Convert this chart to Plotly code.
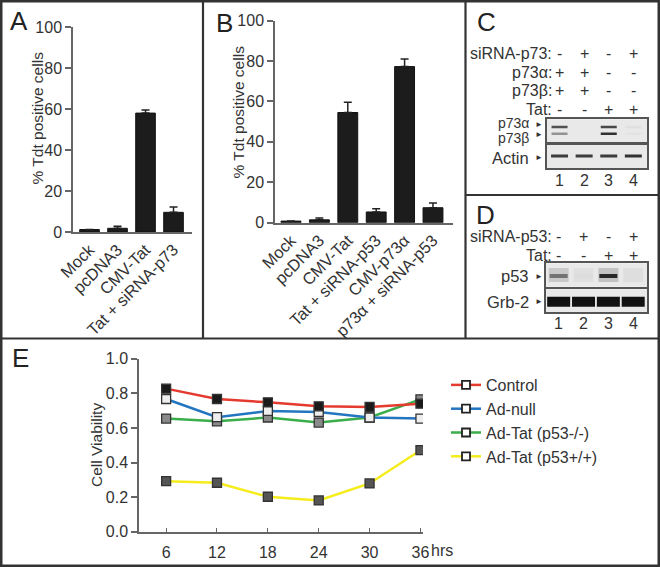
import plotly.graph_objects as go

W, H = 660, 567
FONT = "Liberation Sans, Arial, Helvetica, sans-serif"
INK = "#333333"
AXIS = "#666666"

# ---- panel A: % Tdt positive cells
a_groups = ["Mock", "pcDNA3", "CMV-Tat", "Tat + siRNA-p73"]
a_tdt = [1.2, 1.8, 58.0, 9.6]
a_err = [0.0, 1.0, 1.5, 2.6]

# ---- panel B
b_groups = ["Mock", "pcDNA3", "CMV-Tat", "Tat + siRNA-p53", "CMV-p73α", "p73α + siRNA-p53"]
b_tdt = [0.8, 1.4, 54.5, 5.3, 77.2, 7.4]
b_err = [0.0, 0.9, 5.1, 1.6, 3.7, 2.3]

# ---- panels C / D: western blots (lanes 1-4, band intensity 0..1)
lanes = [1, 2, 3, 4]
c_sirna = ["-", "+", "-", "+"]
c_p73a = ["+", "+", "-", "-"]
c_p73b = ["+", "+", "-", "-"]
c_tat = ["-", "-", "+", "+"]
p73a_band = [0.70, 0.0, 0.75, 0.04]
p73b_band = [0.40, 0.0, 0.85, 0.03]
actin_band = [0.80, 0.80, 0.80, 0.85]
d_sirna = ["-", "+", "-", "+"]
d_tat = ["-", "-", "+", "+"]
p53_band = [0.55, 0.06, 0.90, 0.05]
p53_smear = [0.15, 0.04, 0.18, 0.05]
grb2_band = [1.0, 1.0, 1.0, 1.0]

# ---- panel E: cell viability
hours = [6, 12, 18, 24, 30, 36]
control = [0.827, 0.767, 0.748, 0.725, 0.721, 0.740]
ad_null = [0.767, 0.662, 0.698, 0.692, 0.660, 0.654]
ad_tat_p53ko = [0.654, 0.638, 0.660, 0.631, 0.660, 0.765]
ad_tat_p53wt = [0.292, 0.283, 0.202, 0.181, 0.279, 0.471]


def px(v):
    return v / W


def py(v):
    return 1 - v / H


def txt(text, x, y, size=16, xanchor="center", xref="paper", angle=0, color=INK, **kw):
    return dict(text=text, x=x, y=y, xref=xref, yref="paper", showarrow=False,
                xanchor=xanchor, yanchor="middle", textangle=angle,
                font=dict(family=FONT, size=size, color=color), **kw)


fig = go.Figure()

# bars
for groups, vals, err, ax in [(a_groups, a_tdt, a_err, ("x", "y")),
                              (b_groups, b_tdt, b_err, ("x2", "y2"))]:
    fig.add_trace(go.Bar(
        x=groups, y=vals, width=0.7, xaxis=ax[0], yaxis=ax[1],
        marker=dict(color="#1c1c1c", line=dict(color="#111111", width=1)),
        error_y=dict(type="data", array=err, arrayminus=[0] * len(err),
                     color="#222222", thickness=1.5, width=4),
        showlegend=False, hoverinfo="skip",
    ))


def band(xa, ya, level, intens, thick, length):
    # plotly's line-ew symbol is 1.4 x marker size long
    cols = []
    for i in intens:
        g = round(233 - 215 * i)
        cols.append(f"rgb({g},{g},{g})")
    fig.add_trace(go.Scatter(
        x=lanes, y=[level] * len(lanes), mode="markers", xaxis=xa, yaxis=ya,
        marker=dict(symbol="line-ew", size=length / 1.4, color=cols,
                    line=dict(color=cols, width=thick)),
        showlegend=False, hoverinfo="skip",
    ))


band("x4", "y4", 0.66, p73a_band, 2.5, 16)
band("x4", "y4", 0.36, p73b_band, 2.5, 16)
band("x5", "y5", 0.53, actin_band, 3, 17)
band("x6", "y6", 0.5, p53_smear, 14, 20)
band("x6", "y6", 0.46, p53_band, 4, 18)
band("x7", "y7", 0.46, grb2_band, 10, 23)

# viability lines
series = [
    ("Ad-Tat (p53+/+)", ad_tat_p53wt, "#f4ec1c", "#555555"),
    ("Ad-Tat (p53-/-)", ad_tat_p53ko, "#3aae4a", "#8a8a8a"),
    ("Ad-null", ad_null, "#2475c0", "#eeeeee"),
    ("Control", control, "#e53a2e", "#1a1a1a"),
]
for name, vals, lc, mc in series:
    fig.add_trace(go.Scatter(
        x=hours, y=vals, mode="lines+markers", xaxis="x3", yaxis="y3",
        line=dict(color=lc, width=2.5),
        marker=dict(symbol="square", size=9, color=mc, line=dict(color="#333333", width=1.3)),
        showlegend=False, hoverinfo="skip",
    ))
for name, vals, lc, mc in series[::-1]:
    fig.add_trace(go.Scatter(
        x=[None], y=[None], mode="lines+markers", xaxis="x3", yaxis="y3", name=name,
        legendgroup=name,
        line=dict(color=lc, width=2.5),
        marker=dict(symbol="square", size=8, color="white", line=dict(color="#222222", width=1.8)),
    ))

bar_x = dict(showline=True, linecolor=AXIS, linewidth=1.5, ticks="", tickangle=-45,
             tickfont=dict(family=FONT, size=16.5, color=INK), showgrid=False,
             zeroline=False, automargin=False)
bar_y = dict(showline=True, linecolor=AXIS, linewidth=1.5, ticks="outside", ticklen=6,
             tickcolor=AXIS, tickwidth=1.5, range=[0, 100], dtick=20, automargin=False,
             tickfont=dict(family=FONT, size=16, color=INK), showgrid=False, zeroline=False)
blot = dict(showline=True, mirror=True, linecolor="#555555", linewidth=1.5, ticks="",
            showticklabels=False, showgrid=False, zeroline=False, automargin=False)


def blot_axes(n, x0, x1, y0, y1):
    return {
        f"xaxis{n}": dict(blot, domain=[px(x0), px(x1)], range=[0.49, 4.555], anchor=f"y{n}"),
        f"yaxis{n}": dict(blot, domain=[py(y1), py(y0)], range=[0, 1], anchor=f"x{n}"),
    }


axes = dict(
    xaxis=dict(bar_x, domain=[px(73), px(192)], range=[-0.59, 3.66], anchor="y"),
    yaxis=dict(bar_y, domain=[py(232), py(27)], anchor="x"),
    xaxis2=dict(bar_x, domain=[px(275), px(452.7)], range=[-0.563, 5.694], anchor="y2"),
    yaxis2=dict(bar_y, domain=[py(222.7), py(20.5)], anchor="x2"),
    xaxis3=dict(domain=[px(139), px(423)], range=[2.8, 36.3], anchor="y3", automargin=False,
                showline=True, linecolor=AXIS, linewidth=1.5, ticks="inside", ticklen=4,
                tickcolor=AXIS, tickvals=hours, ticktext=[str(h) for h in hours],
                ticklabelstandoff=5, tickfont=dict(family=FONT, size=16, color=INK),
                showgrid=False, zeroline=False),
    yaxis3=dict(domain=[py(531.7), py(358.7)], range=[0, 1], anchor="x3", dtick=0.2,
                tickformat=".1f", showline=True, linecolor=AXIS, linewidth=1.5, automargin=False,
                ticks="outside", ticklen=6, tickcolor=AXIS, tickwidth=1.5,
                tickfont=dict(family=FONT, size=16, color=INK), showgrid=False, zeroline=False),
)
axes.update(blot_axes(4, 547, 647, 119.3, 142))
axes.update(blot_axes(5, 547, 647, 145, 168.3))
axes.update(blot_axes(6, 546, 647, 263.3, 286.7))
axes.update(blot_axes(7, 546, 647, 289.3, 312.3))

shapes = []
for n in (4, 5, 6, 7):
    shapes.append(dict(type="rect", xref=f"x{n} domain", yref=f"y{n} domain",
                       x0=0, x1=1, y0=0, y1=1, fillcolor="#e9e9e9",
                       line=dict(width=0), layer="below"))
frame = dict(color="#333333", width=2.2)
shapes += [
    dict(type="rect", xref="paper", yref="paper", x0=0, x1=1, y0=0, y1=1,
         line=dict(color="#333333", width=5)),
    dict(type="line", xref="paper", yref="paper", x0=0, x1=1, y0=py(338.5), y1=py(338.5), line=frame),
    dict(type="line", xref="paper", yref="paper", x0=px(203), x1=px(203), y0=py(338.5), y1=1, line=frame),
    dict(type="line", xref="paper", yref="paper", x0=px(465.5), x1=px(465.5), y0=py(338.5), y1=1, line=frame),
    dict(type="line", xref="paper", yref="paper", x0=px(465.5), x1=1, y0=py(195), y1=py(195), line=frame),
]

ann = [
    txt("A", px(19), py(21), size=26, color="#222222"),
    txt("B", px(224), py(23), size=26, color="#222222"),
    txt("C", px(486), py(22), size=26, color="#222222"),
    txt("D", px(485), py(215), size=26, color="#222222"),
    txt("E", px(20), py(358), size=26, color="#222222"),
    txt("% Tdt positive cells", px(37), py(118.5), size=15.5, angle=-90),
    txt("% Tdt positive cells", px(237.5), py(112), size=15.5, angle=-90),
    txt("Cell Viability", px(96), py(445), size=15.5, angle=-90),
    dict(text="hrs", x=36, y=py(550), xref="x3", yref="paper", showarrow=False,
         xanchor="left", yanchor="middle", xshift=9,
         font=dict(family=FONT, size=16, color=INK)),
]

# condition tables
for rows, ypos, xref in [
    ([("siRNA-p73:", c_sirna), ("p73α:", c_p73a), ("p73β:", c_p73b), ("Tat:", c_tat)],
     [53.3, 72.7, 90.7, 109.3], "x4"),
    ([("siRNA-p53:", d_sirna), ("Tat:", d_tat)], [236.7, 255], "x6"),
]:
    for (label, signs), yv in zip(rows, ypos):
        ann.append(txt(label, px(554), py(yv), xanchor="right"))
        for lane, s in zip(lanes, signs):
            ann.append(txt(s, lane, py(yv), xref=xref))

for lane in lanes:
    ann.append(txt(str(lane), lane, py(180), xref="x5"))
    ann.append(txt(str(lane), lane, py(323.3), xref="x7"))

for label, yv, sz in [("p73α", 123, 14), ("p73β", 138, 14), ("Actin", 158, 16.5),
                      ("p53", 276, 16.5), ("Grb-2", 301.7, 16.5)]:
    ann.append(txt(label, px(531), py(yv), size=sz, xanchor="right"))
for yv in (125, 134.3, 157.3, 276, 301.7):
    ann.append(txt("►", px(538.5), py(yv), size=8))

fig.update_layout(
    template="none",
    width=W, height=H, margin=dict(l=0, r=0, t=0, b=0, pad=0),
    paper_bgcolor="white", plot_bgcolor="white",
    font=dict(family=FONT, color=INK),
    bargap=0.3, shapes=shapes, annotations=ann,
    legend=dict(x=px(446), y=py(368), xanchor="left", yanchor="top",
                font=dict(family=FONT, size=16, color=INK), tracegroupgap=0,
                bgcolor="rgba(0,0,0,0)", itemclick=False),
    **axes,
)

fig.write_html("out.html", config={"displayModeBar": False},
               post_script="document.body.style.margin='0';")
